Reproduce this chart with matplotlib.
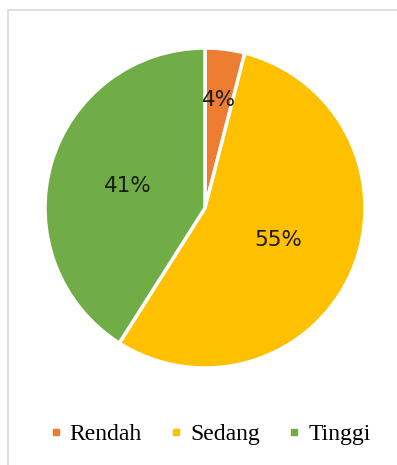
import matplotlib.pyplot as plt
from matplotlib.lines import Line2D
from matplotlib.patches import Rectangle

# data
labels = ['Rendah', 'Sedang', 'Tinggi']
values = [4, 55, 41]
colors = ['#ED7D31', '#FFC000', '#70AD47']

W, H = 397, 465
fig = plt.figure(figsize=(W / 100, H / 100), dpi=100)

# light grey frame (only top/left visible)
fig.patches.append(Rectangle((8 / W, -0.1), 1.2, 1 - 10 / H + 0.1, transform=fig.transFigure,
                             fill=False, edgecolor='#D9D9D9', linewidth=1.2))

ax = fig.add_axes([45 / W, (H - 368) / H, 320 / W, 320 / H])
wedges, texts, autotexts = ax.pie(values, colors=colors, startangle=90, counterclock=False,
                                  autopct='%d%%', pctdistance=0.5,
                                  wedgeprops=dict(edgecolor='white', linewidth=2.5),
                                  textprops=dict(fontsize=15.5, color='#1a1a1a'))
# small slice label sits further out
x, y = autotexts[0].get_position()
autotexts[0].set_position((x * 1.36, y * 1.36))
ax.set_aspect('equal')
ax.set_xlim(-1, 1)
ax.set_ylim(-1, 1)

handles = [Line2D([], [], marker='s', linestyle='none', markersize=4.5,
                  markerfacecolor=c, markeredgecolor=c) for c in colors]
fig.legend(handles, labels, loc='center', bbox_to_anchor=(0.527, 1 - 434 / H), ncol=3,
           frameon=False, handletextpad=0.25, columnspacing=1.1, handlelength=0.7,
           prop=dict(family='Liberation Serif', size=17))

fig.savefig('out.png', dpi=100)
